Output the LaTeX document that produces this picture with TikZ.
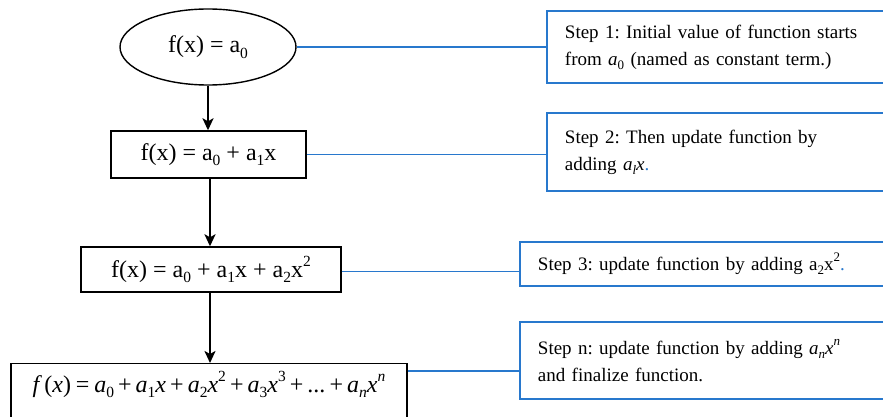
\documentclass[tikz,border=0pt]{standalone}
\usepackage{fontspec}
\setmainfont{Liberation Serif}
\usetikzlibrary{shapes.geometric,arrows.meta}
\definecolor{stepblue}{RGB}{40,120,205}
\newcommand{\sbs}[1]{\raisebox{-0.22em}{\fontsize{15.5}{15.5}\selectfont #1}}
\newcommand{\sps}[1]{\raisebox{0.45em}{\fontsize{15.5}{15.5}\selectfont #1}}
\newcommand{\tsb}[1]{\raisebox{-0.22em}{\fontsize{13}{13}\selectfont #1}}
\newcommand{\tsp}[1]{\raisebox{0.45em}{\fontsize{13}{13}\selectfont #1}}
\newcommand{\mrel}{\hspace{0.2em}=\hspace{0.2em}}
\newcommand{\mbin}{\hspace{0.17em}+\hspace{0.17em}}
\begin{document}
\frenchspacing
\begin{tikzpicture}[x=1pt,y=-1pt,
  flowbox/.style={draw=black,line width=1.4pt,inner sep=0pt,font=\fontsize{24}{28}\selectfont},
  stepbox/.style={draw=stepblue,line width=1.9pt,anchor=west,inner xsep=18pt,inner ysep=0pt,
    text width=330pt,align=left,font=\fontsize{19}{27}\selectfont},
  flowarrow/.style={line width=2.2pt,-{Stealth[length=12pt,width=11pt,inset=3pt]}},
  link/.style={draw=stepblue,line width=1.9pt}]
\useasboundingbox (0,0) rectangle (883,417);
\clip (0,0) rectangle (883,417);
% left column
\node[flowbox,ellipse,minimum width=176pt,minimum height=76pt] (e1) at (208,47) {f(x) = a\sbs{0}};
\node[flowbox,rectangle,minimum width=195pt,minimum height=47pt] (b2) at (208.5,154.5) {f(x) = a\sbs{0} + a\sbs{1}x};
\node[flowbox,rectangle,minimum width=260pt,minimum height=45pt] (b3) at (211,269.5) {f(x) = a\sbs{0} + a\sbs{1}x + a\sbs{2}x\sps{2}};
\node[flowbox,rectangle,anchor=north,minimum width=396pt,text height=29pt,text depth=40pt] (b4) at (209,363)
  {\textit{f}\hspace{0.1em}(\textit{x})\mrel\textit{a}\sbs{0}\mbin\textit{a}\sbs{1}\textit{x}\mbin\textit{a}\sbs{2}\textit{x}\sps{2}\mbin\textit{a}\sbs{3}\textit{x}\sps{3}\mbin...\mbin\textit{a}\sbs{\textit{n}}\textit{x}\sps{\textit{n}}};
\draw[flowarrow] (e1.south) -- (e1.south |- b2.north);
\draw[flowarrow] ([xshift=1.5pt]b2.south) -- ([xshift=1.5pt]b2.south |- b3.north);
\draw[flowarrow] ([xshift=-1pt]b3.south) -- ([xshift=-1pt]b3.south |- b4.north);
% right column
\node[stepbox,minimum height=72pt] (s1) at (546,47)
  {Step 1: Initial value of function starts\\from \textit{a}\tsb{0} (named as constant term.)};
\node[stepbox,minimum height=78pt] (s2) at (546,152)
  {Step 2: Then update function by\\adding \textit{a}\tsb{\textit{l}}\textit{x}\textcolor{stepblue}{.}};
\node[stepbox,minimum height=44pt] (s3) at (519,264)
  {Step 3: update function by adding a\tsb{2}x\tsp{2}\textcolor{stepblue}{.}};
\node[stepbox,minimum height=77pt] (sn) at (519,360.5)
  {Step n: update function by adding \textit{a}\tsb{\textit{n}}\textit{x}\tsp{\textit{n}}\\and finalize function.};
\coordinate (b4r) at ([yshift=-8pt]b4.north east);
\draw[link] (e1.east) -- (s1.west);
\draw[link] (b2.east) -- (b2.east -| s2.west);
\draw[link] ([yshift=-2pt]b3.east) -- ([yshift=-2pt]b3.east -| s3.west);
\draw[link] (b4r) -- (b4r -| sn.west);
\end{tikzpicture}
\end{document}
